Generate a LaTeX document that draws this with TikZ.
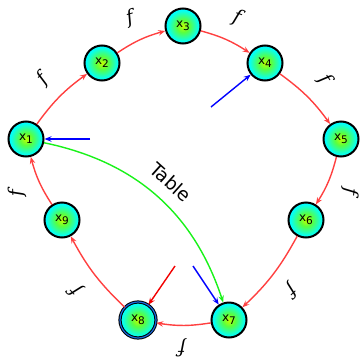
\documentclass[tikz,border=0pt]{standalone}
\usepackage{fontspec}
\setmainfont{DejaVu Sans}
\newfontfamily\flabfont{DejaVu Serif}
\usetikzlibrary{arrows.meta}
\definecolor{cA}{rgb}{0.75,1,0}
\definecolor{cB}{rgb}{0.35,1,0.25}
\definecolor{cC}{rgb}{0,1,1}
\definecolor{cD}{rgb}{0,0.75,1}
\definecolor{cE}{rgb}{0.1,0.5,1}
\definecolor{edgered}{rgb}{1,0.25,0.25}
\definecolor{arrred}{rgb}{0.95,0,0}
\definecolor{arrgreen}{rgb}{0.1,0.95,0.1}
\definecolor{ringblue}{rgb}{0.1,0.4,0.85}
\pgfdeclareradialshading{nodeball}{\pgfpoint{0bp}{0bp}}{color(0bp)=(cA); color(9bp)=(cB); color(23bp)=(cC); color(40bp)=(cD); color(50bp)=(cE)}
\newcommand\nsub[1]{\raisebox{-0.45ex}{\fontsize{10.5}{10.5}\selectfont #1}}
\begin{document}
\begin{tikzpicture}[x=1pt,y=-1pt,
  state/.style={circle, draw=black, line width=2pt, minimum size=35pt, inner sep=0pt, shading=nodeball, font=\fontsize{12}{12}\selectfont},
  final/.style={circle, draw=black, line width=1pt, double=ringblue, double distance=1.2pt, minimum size=36pt, inner sep=0pt, shading=nodeball, font=\fontsize{12}{12}\selectfont},
  tip/.style={-{Stealth[length=7pt,width=5.5pt,inset=2.5pt]}},
  fedge/.style={draw=edgered, line width=1.4pt, tip, bend left=9},
  barrow/.style={draw=blue, line width=1.4pt, tip},
  rarrow/.style={draw=arrred, line width=1.4pt, tip},
  gedge/.style={draw=arrgreen, line width=1.4pt, tip},
  flab/.style={font=\flabfont\itshape\fontsize{19}{19}\selectfont, inner sep=0pt}
]
\useasboundingbox (0,0) rectangle (361,359);

\node[state] (x1) at (26,139) {x\nsub{1}};
\node[state] (x2) at (102,63) {x\nsub{2}};
\node[state] (x3) at (183,26) {x\nsub{3}};
\node[state] (x4) at (265,63) {x\nsub{4}};
\node[state] (x5) at (341,139) {x\nsub{5}};
\node[state] (x6) at (306,220) {x\nsub{6}};
\node[state] (x7) at (229,320) {x\nsub{7}};
\node[final] (x8) at (138,320) {x\nsub{8}};
\node[state] (x9) at (62,220) {x\nsub{9}};

\draw[fedge] (x1) to (x2);
\draw[fedge] (x2) to (x3);
\draw[fedge] (x3) to (x4);
\draw[fedge] (x4) to (x5);
\draw[fedge] (x5) to (x6);
\draw[fedge] (x6) to (x7);
\draw[fedge] (x7) to (x8);
\draw[fedge] (x8) to (x9);
\draw[fedge] (x9) to (x1);

\draw[gedge] (x1) to[bend left=30] (x7);

\coordinate (b1) at (90,139);
\coordinate (b4) at (211,107);
\coordinate (b7) at (193,266);
\coordinate (r8) at (175,266);
\draw[barrow] (b1) -- (x1);
\draw[barrow] (b4) -- (x4);
\draw[barrow] (b7) -- (x7);
\draw[rarrow] (r8) -- (x8);

\node[flab, rotate=48] (f1) at (43,79) {f};
\node[flab, rotate=16] (f2) at (130,18) {f};
\node[flab, rotate=-20] (f3) at (237,18) {f};
\node[flab, rotate=-56] (f4) at (325,79) {f};
\node[flab, rotate=-96] (f5) at (350,192) {f};
\node[flab, rotate=-137] (f6) at (291,290) {f};
\node[flab, rotate=180] (f7) at (182,348) {f};
\node[flab, rotate=133] (f8) at (76,290) {f};
\node[flab, rotate=92] (f9) at (17,193) {f};

\node[font=\fontsize{18.5}{18.5}\selectfont, rotate=-42, inner sep=0pt] (tbl) at (171,182) {Table};
\end{tikzpicture}
\end{document}
